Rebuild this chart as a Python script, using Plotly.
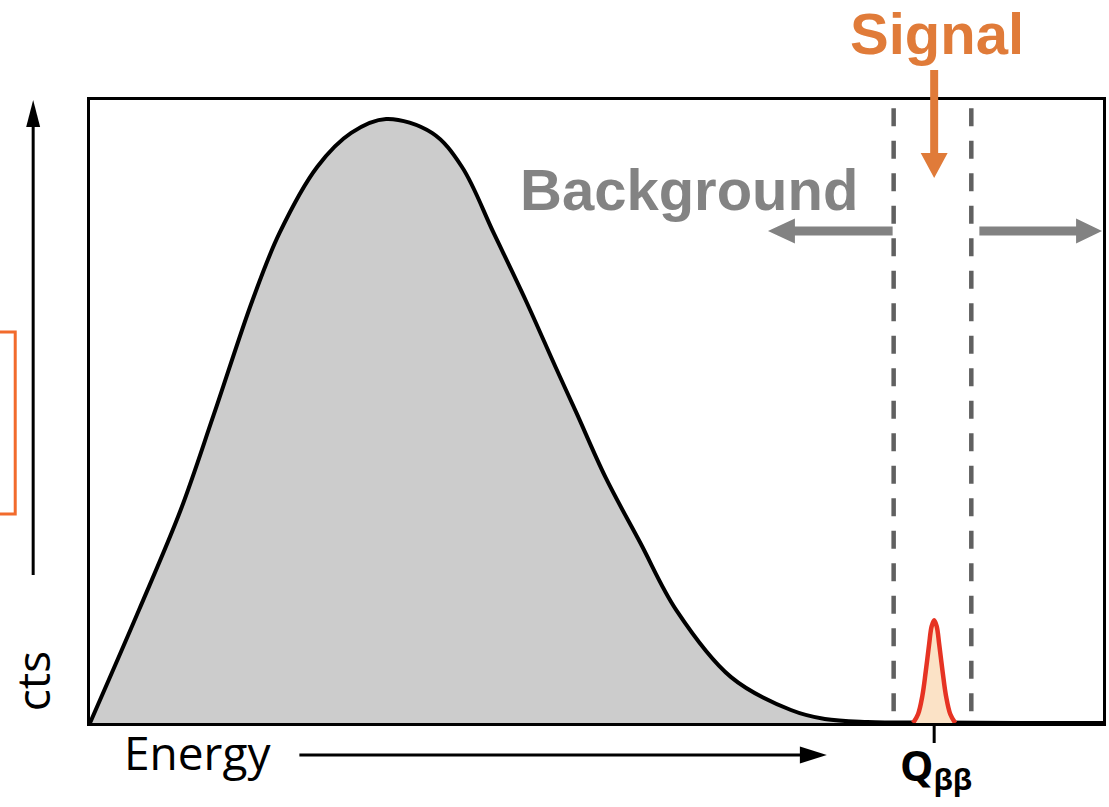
import plotly.graph_objects as go

# ---------------- data ----------------
# x in units of Q_bb (Q_bb = 1.0), y normalised to the 2vbb maximum
bkg_energy = [0.0, 0.058, 0.1075, 0.1465, 0.1925, 0.2244, 0.2693, 0.3094,
              0.3508, 0.4051, 0.4405, 0.4783, 0.5161, 0.5516, 0.5764,
              0.6106, 0.652, 0.6945, 0.7594, 0.8303, 0.8705, 0.921, 1.004, 1.098, 1.2]
bkg_counts = [0.0, 0.187, 0.353, 0.510, 0.700, 0.811, 0.921, 0.977,
              1.000, 0.977, 0.921, 0.811, 0.700, 0.589, 0.513,
              0.407, 0.298, 0.187, 0.076, 0.0215, 0.0066, 0.0017, 0.0008, 0.0, 0.0]

sig_energy = [0.975, 0.981, 0.986, 0.990, 0.994, 0.997, 1.000, 1.003, 1.006, 1.010,
              1.014, 1.019, 1.025]
sig_counts = [0.0, 0.015, 0.045, 0.085, 0.130, 0.160, 0.170, 0.160, 0.130, 0.085,
              0.045, 0.015, 0.0]

Q_BB = 1.0
ROI = [0.952, 1.044]          # dashed region of interest
X_MAX = 1.2
Y_MAX = 1.0315

# ---------------- layout geometry ----------------
W, H = 1109, 807
ML, MR, MT, MB = 90, 3, 100, 84
PW, PH = W - ML - MR, H - MT - MB


def px(x):  # window pixel -> paper x
    return (x - ML) / PW


def py(y):  # window pixel -> paper y
    return (H - MB - y) / PH


def poly(points):
    return "M " + " L ".join(f"{px(a):.5f},{py(b):.5f}" for a, b in points) + " Z"


ORANGE = "#E07B39"
GRAY_TXT = "#838383"
GRAY_ARROW = "#828282"

fig = go.Figure()

fig.add_trace(go.Scatter(
    x=bkg_energy, y=bkg_counts, mode="lines",
    line=dict(color="black", width=4, shape="spline", smoothing=1.0),
    fill="tozeroy", fillcolor="#cccccc", hoverinfo="skip", showlegend=False))

fig.add_trace(go.Scatter(
    x=sig_energy, y=sig_counts, mode="lines",
    line=dict(color="#E63323", width=4.5, shape="spline", smoothing=1.0),
    fill="tozeroy", fillcolor="#FBE2C6", hoverinfo="skip", showlegend=False))

shapes = []
# dashed ROI lines
for xr in ROI:
    shapes.append(dict(type="line", xref="x", yref="y",
                       x0=xr, x1=xr, y0=1.018, y1=0.017,
                       line=dict(color="#606060", width=4.5, dash="18px,14.5px")))

# Q_bb tick below axis
shapes.append(dict(type="line", xref="x", yref="paper", x0=Q_BB, x1=Q_BB,
                   y0=py(725), y1=py(743), line=dict(color="black", width=3)))

# background arrows (gray)
yb = 231
hw, sw = 12.5, 4.5
shapes.append(dict(type="path", xref="paper", yref="paper", layer="above",
                   path=poly([(895, yb - sw), (797, yb - sw), (797, yb - hw), (770, yb),
                              (797, yb + hw), (797, yb + sw), (895, yb + sw)]),
                   fillcolor=GRAY_ARROW, line=dict(width=0)))
shapes.append(dict(type="path", xref="paper", yref="paper", layer="above",
                   path=poly([(982, yb - sw), (1079, yb - sw), (1079, yb - hw), (1105, yb),
                              (1079, yb + hw), (1079, yb + sw), (982, yb + sw)]),
                   fillcolor=GRAY_ARROW, line=dict(width=0)))

# signal arrow (orange)
xs = ML + Q_BB / X_MAX * PW
shapes.append(dict(type="path", xref="paper", yref="paper", layer="above",
                   path=poly([(xs - 4, 70), (xs + 4, 70), (xs + 4, 153), (xs + 13.5, 153),
                              (xs, 178), (xs - 13.5, 153), (xs - 4, 153)]),
                   fillcolor=ORANGE, line=dict(width=0)))

# vertical black arrow (counts)
shapes.append(dict(type="line", xref="paper", yref="paper",
                   x0=px(33), x1=px(33), y0=py(575), y1=py(122),
                   line=dict(color="black", width=3)))
shapes.append(dict(type="path", xref="paper", yref="paper",
                   path=poly([(33, 100), (40, 127), (26, 127)]),
                   fillcolor="black", line=dict(width=0)))

# horizontal black arrow (energy)
shapes.append(dict(type="line", xref="paper", yref="paper",
                   x0=px(300), x1=px(806), y0=py(755), y1=py(755),
                   line=dict(color="black", width=3)))
shapes.append(dict(type="path", xref="paper", yref="paper",
                   path=poly([(829, 755), (802, 746.5), (802, 763.5)]),
                   fillcolor="black", line=dict(width=0)))

# orange box at left edge
shapes.append(dict(type="rect", xref="paper", yref="paper",
                   x0=px(-10), x1=px(15), y0=py(514), y1=py(332),
                   line=dict(color="#F26B2C", width=3), fillcolor="rgba(0,0,0,0)"))

annotations = [
    dict(text="<b>Signal</b>", x=px(940), y=py(34), xref="paper", yref="paper",
         showarrow=False, xanchor="center", yanchor="middle",
         font=dict(family="Liberation Sans", size=58, color=ORANGE)),
    dict(text="<b>Background</b>", x=px(691), y=py(189), xref="paper", yref="paper",
         showarrow=False, xanchor="center", yanchor="middle",
         font=dict(family="Liberation Sans", size=58, color=GRAY_TXT)),
    dict(text="Energy", x=px(198), y=py(752), xref="paper", yref="paper",
         showarrow=False, xanchor="center", yanchor="middle",
         font=dict(family="Open Sans", size=46, color="black")),
    dict(text="cts", x=px(32), y=py(681), xref="paper", yref="paper",
         showarrow=False, xanchor="center", yanchor="middle", textangle=-90,
         font=dict(family="Open Sans", size=46, color="black")),
    dict(text="<b>Q<sub>ββ</sub></b>", x=px(900), y=py(767), xref="paper", yref="paper",
         showarrow=False, xanchor="left", yanchor="middle",
         font=dict(family="Open Sans", size=42, color="black")),
]

axis_common = dict(showline=True, mirror=True, linecolor="black", linewidth=3,
                   showgrid=False, zeroline=False, showticklabels=False, ticks="",
                   fixedrange=True)

fig.update_layout(
    width=W, height=H,
    margin=dict(l=ML, r=MR, t=MT, b=MB),
    paper_bgcolor="white", plot_bgcolor="white",
    xaxis=dict(range=[0, X_MAX], **axis_common),
    yaxis=dict(range=[0, Y_MAX], **axis_common),
    shapes=shapes, annotations=annotations, showlegend=False,
)

page_fix = ("document.body.style.margin='0';"
            "document.body.style.overflow='hidden';"
            "document.documentElement.style.overflow='hidden';")

fig.write_html("out.html", post_script=page_fix,
               config={"displayModeBar": False, "staticPlot": True})
